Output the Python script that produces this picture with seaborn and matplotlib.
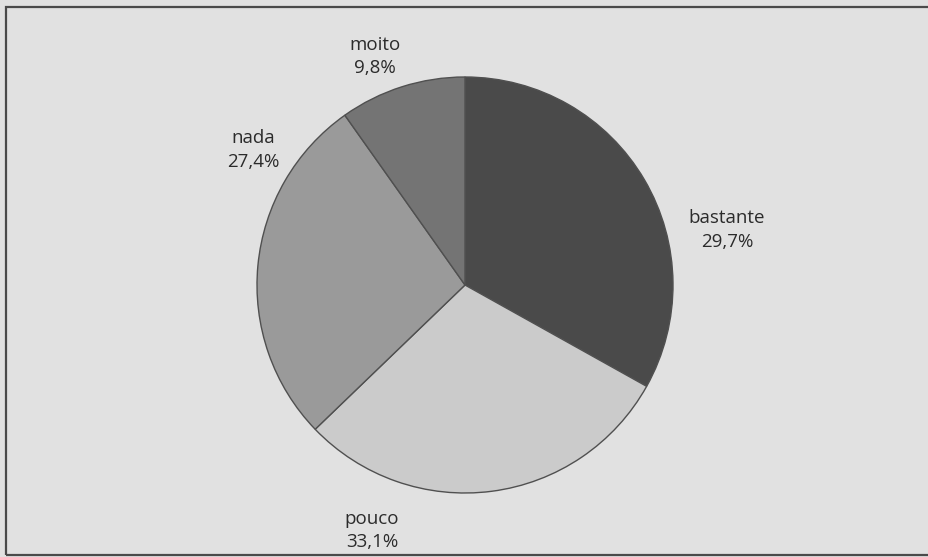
import seaborn as sns
import matplotlib.pyplot as plt
from matplotlib.patches import Rectangle

# Categories, clockwise from the top
categories = ["bastante", "pouco", "nada", "moito"]
# wedge sizes as drawn in the picture (%)
wedge_sizes = [33.1, 29.7, 27.4, 9.8]
# percentages as printed next to the wedges
printed_pct = ["29,7%", "33,1%", "27,4%", "9,8%"]

sns.set_theme(style="white")
plt.rcParams['font.family'] = ['Open Sans', 'DejaVu Sans']

colors = sns.color_palette(["#4a4a4a", "#cbcbcb", "#9a9a9a", "#747474"])
bg = "#e1e1e1"

fig = plt.figure(figsize=(9.29, 5.57), dpi=100, facecolor=bg)
ax = fig.add_axes([0, 0, 1, 1])
ax.set_facecolor(bg)

ax.pie(wedge_sizes, colors=colors, startangle=90, counterclock=False,
       radius=1.0, wedgeprops=dict(edgecolor="#505050", linewidth=1.0))

# pixel layout: centre at (465, 285), radius 208 px
r_px = 208
ax.set_xlim(-465 / r_px, (929 - 465) / r_px)
ax.set_ylim(-(557 - 285) / r_px, 285 / r_px)
ax.set_aspect('auto')
ax.axis('off')

label_pos = [(1.26, 0.265), (-0.447, -1.18), (-1.02, 0.65), (-0.433, 1.098)]
for cat, pct, (x, y) in zip(categories, printed_pct, label_pos):
    ax.text(x, y, f"{cat}\n{pct}", ha='center', va='center',
            fontsize=13.5, color="#2b2b2b", linespacing=1.4)

# outer frame (runs off the right edge of the scan)
fig.patches.append(Rectangle((6 / 929, 2 / 557), 1.2, 548 / 557,
                             transform=fig.transFigure, fill=False,
                             edgecolor="#4a4a4a", linewidth=1.6))

plt.savefig("out.png", dpi=100, facecolor=bg)
